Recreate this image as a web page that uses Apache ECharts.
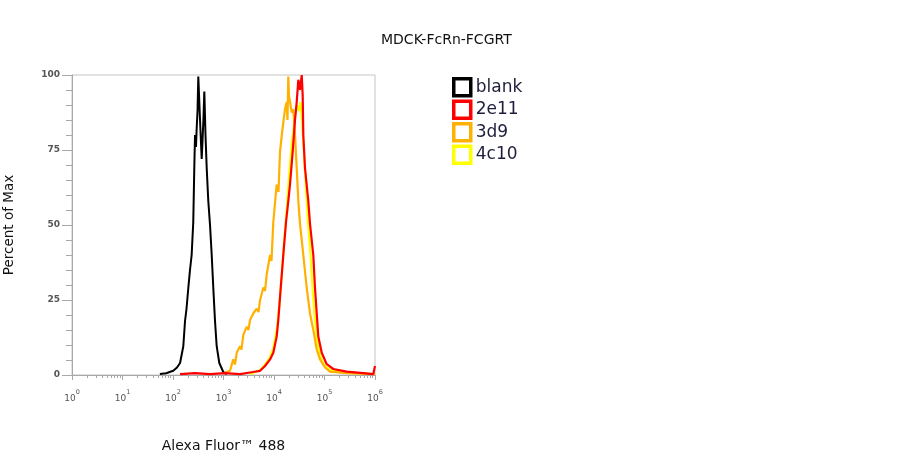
<!DOCTYPE html>
<html>
<head>
<meta charset="utf-8">
<script src="https://cdn.jsdelivr.net/npm/echarts@6/dist/echarts.min.js"></script>
<style>
html,body{margin:0;padding:0;background:#fff;}
#chart{width:899px;height:458px;}
</style>
</head>
<body>
<div id="chart"></div>
<script>
// Fluorescence intensity (linear units) and percent-of-max values
const seriesNames = ['blank', '2e11', '3d9', '4c10'];
const seriesColors = ['#000000', '#ff0000', '#ffb000', '#ffff00'];
const xTickExponents = [0, 1, 2, 3, 4, 5, 6];
const yTicks = [0, 25, 50, 75, 100];

const blankX = [55, 73, 101, 120, 138, 160, 173, 185, 201, 217, 234, 252, 264, 273, 285, 294, 306, 317, 327, 343, 370, 384, 402, 417, 440, 465, 500, 541, 584, 628, 679, 733, 826, 991, 1156];
const blankY = [0.3, 0.6, 1.4, 2.5, 4, 9.6, 18, 22, 29, 35, 40, 51, 69, 80, 76, 82, 88, 99.5, 100, 85, 72, 78, 86, 94.5, 80, 69, 58, 50, 40, 29, 18, 9.6, 4, 1, 0.3];

const e2e11X = [138, 273, 541, 1072, 2123, 3838, 5286, 6639, 8344, 9690, 11300, 12160, 13580, 15290, 17300, 18930, 20750, 23430, 26050, 28170, 30300, 32750, 35400, 37020, 38040, 41100, 47760, 51630, 60000, 64880, 70170, 75400, 88140, 110600, 149300, 275300, 586600, 925000, 1000000];
const e2e11Y = [0.3, 0.6, 0.3, 0.6, 0.3, 1.0, 1.4, 3, 5.2, 7.4, 12.8, 18.3, 29, 40, 51, 57, 63.5, 74.4, 85, 91, 98.4, 95, 100, 93, 80, 69, 58, 50.4, 40, 29, 20.5, 12.8, 7.4, 3.6, 2, 1.1, 0.6, 0.3, 3];

const d3d9X = [991, 1345, 1563, 1690, 1825, 2123, 2271, 2468, 2878, 3126, 3350, 3894, 4540, 4931, 5286, 6141, 6639, 7175, 8344, 8918, 9690, 11300, 12270, 13150, 14220, 15290, 16520, 17840, 18500, 19190, 19820, 20750, 22390, 24090, 26050, 28170, 30300, 32750, 38040, 44460, 51630, 60000, 70170, 81470, 102300, 128500, 275300, 1000000];
const d3d9Y = [0.6, 1.4, 5.2, 3.5, 7.4, 9.6, 8.5, 13.4, 16.1, 15, 18.3, 20.5, 22.1, 21, 24.8, 29.2, 28, 33.6, 40, 38, 51, 63.5, 61, 74.4, 79.8, 84.2, 88.6, 91, 85, 99.5, 93, 91, 87.5, 88.6, 80, 69, 58, 50.4, 40, 29, 20.5, 15, 8.5, 5.2, 2.5, 1.1, 0.6, 0.3];

const c4c10X = [3350, 5286, 6639, 8344, 9690, 11300, 12560, 14220, 15790, 17300, 19820, 22700, 26050, 28510, 31260, 33500, 35810, 39260, 43050, 47150, 52850, 57860, 63390, 70950, 81470, 97720, 128500, 275300, 796200];
const c4c10Y = [0.3, 1.6, 3.5, 6, 9, 15, 22, 33, 44, 52, 66, 78, 86, 90, 88, 91, 85, 74, 62, 51, 40, 29, 20, 12, 6.5, 3.3, 1.6, 0.8, 0.4];

function toLog(xs, ys) {
  return xs.map((x, i) => [Math.log10(x), ys[i]]);
}

const minorTickValues = [];
for (let e = 0; e < 6; e++) {
  for (let k = 2; k <= 9; k++) minorTickValues.push(Math.log10(k * Math.pow(10, e)));
}

const chart = echarts.init(document.getElementById('chart'), null, {renderer: 'canvas'});
const FONT = 'DejaVu Sans';
const axisGray = '#a8a8a8';

const dataByName = {
  'blank': toLog(blankX, blankY),
  '2e11': toLog(e2e11X, e2e11Y),
  '3d9': toLog(d3d9X, d3d9Y),
  '4c10': toLog(c4c10X, c4c10Y)
};
const drawOrder = ['blank', '4c10', '3d9', '2e11'];

chart.setOption({
  animation: false,
  backgroundColor: '#ffffff',
  title: {
    text: 'MDCK-FcRn-FCGRT',
    left: 376,
    top: 28,
    textStyle: {fontFamily: FONT, fontSize: 14, fontWeight: 'normal', color: '#111'}
  },
  legend: {
    orient: 'vertical',
    left: 447,
    top: 72,
    itemWidth: 17,
    itemHeight: 17,
    itemGap: 2,
    icon: 'rect',
    textStyle: {fontFamily: FONT, fontSize: 17, color: '#1e1e3c', lineHeight: 18.5},
    data: seriesNames.map((n, i) => ({
      name: n,
      itemStyle: {color: '#ffffff', borderColor: seriesColors[i], borderWidth: 3.5}
    }))
  },
  grid: {
    left: 72, right: 524, top: 75, bottom: 77,
    show: true, borderColor: '#c4c4c4', borderWidth: 1
  },
  xAxis: [{
    type: 'value',
    min: 0, max: 6, interval: 1,
    name: 'Alexa Fluor™ 488',
    nameLocation: 'middle',
    nameGap: 64,
    nameTextStyle: {fontFamily: FONT, fontSize: 14, color: '#111'},
    axisLine: {show: true, lineStyle: {color: axisGray}},
    axisTick: {show: true, length: 5, lineStyle: {color: axisGray}},
    splitLine: {show: false},
    axisLabel: {
      margin: 14,
      formatter: v => '{b|10}{s|' + Math.round(v) + '}',
      rich: {
        b: {fontFamily: FONT, fontSize: 9, color: '#555', lineHeight: 14, verticalAlign: 'bottom'},
        s: {fontFamily: FONT, fontSize: 6.5, color: '#555', lineHeight: 14, verticalAlign: 'top', padding: [0, 0, 7, 0]}
      }
    }
  }, {
    type: 'value',
    min: 0, max: 6,
    position: 'bottom',
    axisLine: {show: false},
    axisLabel: {show: false},
    splitLine: {show: false},
    axisTick: {show: true, length: 3, customValues: minorTickValues, lineStyle: {color: axisGray}}
  }],
  yAxis: {
    type: 'value',
    min: 0, max: 100, interval: 25,
    name: 'Percent of Max',
    nameLocation: 'middle',
    nameGap: 56,
    nameTextStyle: {fontFamily: FONT, fontSize: 13.5, color: '#111'},
    axisLine: {show: true, lineStyle: {color: axisGray}},
    axisTick: {show: true, length: 10, lineStyle: {color: axisGray}},
    minorTick: {show: true, splitNumber: 5, length: 6, lineStyle: {color: axisGray}},
    splitLine: {show: false},
    axisLabel: {margin: 12, fontFamily: FONT, fontSize: 9, color: '#555', fontWeight: 'bold'}
  },
  series: drawOrder.map(n => {
    const c = seriesColors[seriesNames.indexOf(n)];
    return {
      name: n,
      type: 'line',
      xAxisIndex: 0,
      showSymbol: false,
      symbol: 'none',
      color: c,
      lineStyle: {color: c, width: n === 'blank' ? 2 : 2.2},
      itemStyle: {color: '#fff', borderColor: c},
      data: dataByName[n]
    };
  })
});
</script>
</body>
</html>
